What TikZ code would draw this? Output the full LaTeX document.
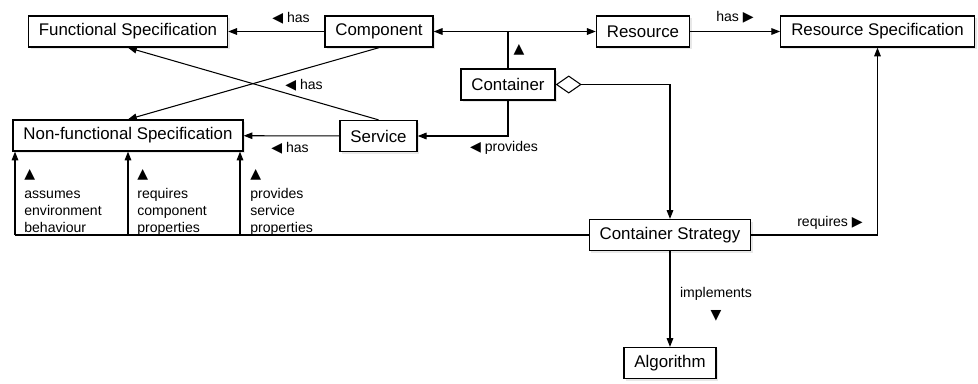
\documentclass[tikz,border=0pt]{standalone}
\usepackage{fontspec}
\setmainfont{Liberation Sans}
\newfontfamily\symfont{DejaVu Sans}
\usetikzlibrary{arrows.meta,shadows}

\newcommand{\tleft}{{\symfont ◀}}
\newcommand{\tright}{{\symfont ▶}}
\newcommand{\tup}{{\symfont ▲}}
\newcommand{\tdown}{{\symfont ▼}}

\tikzset{
  entity/.style={shape=rectangle,draw,line width=0.75pt,fill=white,inner xsep=0.21cm,inner ysep=0pt,
    minimum height=0.62cm,font=\fontsize{9.6}{11}\selectfont,
    drop shadow={shadow xshift=1.3pt,shadow yshift=-1.3pt,opacity=0.18}},
  rel/.style={line width=0.6pt,-{Triangle[length=5pt,width=3.8pt]}},
  agg/.style={line width=0.6pt,{Diamond[open,length=0.52cm,width=0.36cm,line width=0.6pt]}-{Triangle[length=5pt,width=3.8pt]}},
  lbl/.style={font=\fontsize{8}{9.64}\selectfont,inner sep=0pt},
}

\begin{document}
\begin{tikzpicture}[x=0.02cm,y=-0.02cm]
    \useasboundingbox (0,0) rectangle (978,383);
    % classes
    \node[entity] (fspec) at (128,31.5) {Functional Specification};
    \node[entity] (comp) at (379,31.5) {Component};
    \node[entity] (res) at (643,31.5) {Resource};
    \node[entity] (rspec) at (877.5,31.5) {Resource Specification};
    \node[entity] (cont) at (508,84.5) {Container};
    \node[entity] (serv) at (378.5,136) {Service};
    \node[entity] (nfs) at (128,135.5) {Non-functional Specification};
    \node[entity] (cs) at (670,235) {Container Strategy};
    \node[entity] (alg) at (670,363) {Algorithm};
    % associations
    \draw[rel] (comp) -- (fspec);
    \draw[rel] (cont.north) |- (comp.east);
    \draw[rel] (cont.north) |- (res.west);
    \draw[rel] (res) -- (rspec);
    \draw[rel] (cont.south) |- (serv.east);
    \draw[rel] (serv) -- (nfs);
    \draw[rel] (comp.south) -- (nfs.north);
    \draw[rel] (serv.north) -- (fspec.south);
    \draw[agg] (cont.east) -| (cs.north);
    \draw[rel] (cs.east) -| (rspec.south);
    \draw[rel] (cs) -- (alg);
    \coordinate (a1) at (15,235);
    \coordinate (a2) at (128,235);
    \coordinate (a3) at (240,235);
    \draw[line width=0.6pt] (cs.west) -- (a1);
    \draw[rel] (a1) -- (a1 |- nfs.south);
    \draw[rel] (a2) -- (a2 |- nfs.south);
    \draw[rel] (a3) -- (a3 |- nfs.south);
    % role labels
    \node[lbl] (l1) at (291,18) {\tleft\ has};
    \node[lbl] (l2) at (304,85) {\tleft\ has};
    \node[lbl] (l3) at (290,148) {\tleft\ has};
    \node[lbl] (l4) at (504,148) {\tleft\ provides};
    \node[lbl] (l5) at (519,50) {\tup};
    \node[lbl] (l6) at (735,17) {has \tright};
    \node[lbl] (l7) at (830,223) {requires \tright};
    \node[lbl,align=center] (l8) at (716,304) {implements\\[3pt]\tdown};
    \node[lbl,align=left,anchor=north west] (l9) at (24,169) {\tup\\[2pt]assumes\\environment\\behaviour};
    \node[lbl,align=left,anchor=north west] (l10) at (137,169) {\tup\\[2pt]requires\\component\\properties};
    \node[lbl,align=left,anchor=north west] (l11) at (250,169) {\tup\\[2pt]provides\\service\\properties};
\end{tikzpicture}
\end{document}
